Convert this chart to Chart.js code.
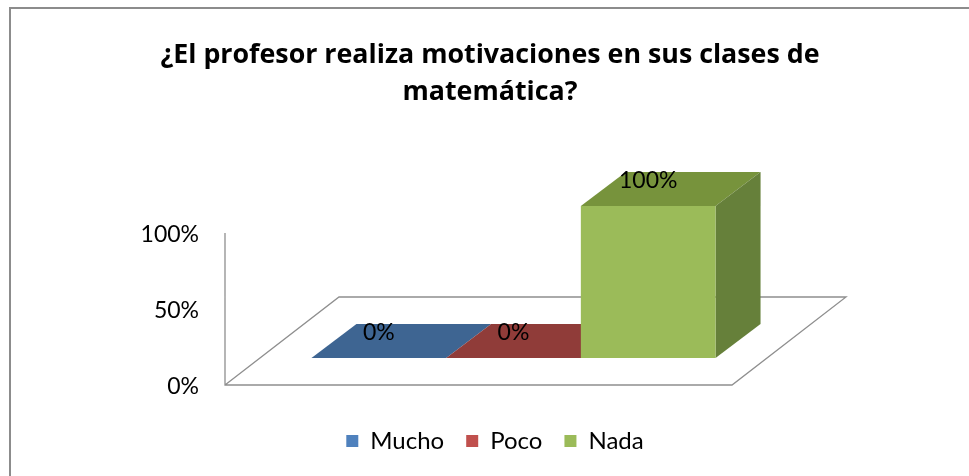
<!DOCTYPE html>
<html>
<head>
<meta charset="utf-8">
<script src="https://cdn.jsdelivr.net/npm/chart.js"></script>
<style>
html, body { margin: 0; padding: 0; background: #fff; }
#wrap { position: relative; width: 969px; height: 476px; overflow: hidden; }
#marco { position: absolute; left: 9px; top: 7px; width: 1000px; height: 520px; border: 2px solid #8c8c8c; }
#grafico { position: absolute; left: 0; top: 0; }
</style>
</head>
<body>
<div id="wrap">
    <div id="marco"></div>
    <canvas id="grafico" width="969" height="476"></canvas>
</div>
<script>
const titulo = ['¿El profesor realiza motivaciones en sus clases de', 'matemática?'];
const categorias = ['Mucho', 'Poco', 'Nada'];
const valores = [0, 0, 1];
const ticksValores = [0, 0.5, 1];
const ticksEtiquetas = ['0%', '50%', '100%'];

const coloresFrente = ['#4F81BD', '#C0504D', '#9BBB59'];
const coloresArriba = ['#3E6592', '#903C39', '#77933C'];
const coloresLado = ['#345579', '#7A3230', '#66803A'];

const fuente = 'Lato, "Open Sans", sans-serif';
const fuenteTitulo = '"Open Sans", Lato, sans-serif';

// profundidad de las barras y desplazamientos del piso (respecto al plano de las barras)
const prof = { dx: 45, dy: -34 };
const frente = { dx: -35, dy: 27 };
const fondo = { dx: 79, dy: -61 };

function poligono(ctx, pts){
    ctx.beginPath();
    ctx.moveTo(pts[0][0], pts[0][1]);
    for(let k = 1; k < pts.length; k++){
        ctx.lineTo(pts[k][0], pts[k][1]);
    }
    ctx.closePath();
    ctx.fill();
}

const efecto3d = {
    id: 'efecto3d',
    afterLayout(chart){
        // la leyenda del original esta un poco corrida a la derecha
        chart.legend.left += 5;
        chart.legend.right += 5;
    },
    beforeDatasetsDraw(chart){
        const { ctx, chartArea, scales: { y } } = chart;
        const y0 = y.getPixelForValue(0);
        const y1 = y.getPixelForValue(1);

        ctx.save();
        ctx.strokeStyle = '#8f8f8f';
        ctx.lineWidth = 1.3;
        ctx.beginPath();
        ctx.moveTo(chartArea.left + frente.dx, y1 + frente.dy);
        ctx.lineTo(chartArea.left + frente.dx, y0 + frente.dy);
        ctx.lineTo(chartArea.right + frente.dx, y0 + frente.dy);
        ctx.lineTo(chartArea.right + fondo.dx, y0 + fondo.dy);
        ctx.lineTo(chartArea.left + fondo.dx, y0 + fondo.dy);
        ctx.lineTo(chartArea.left + frente.dx, y0 + frente.dy);
        ctx.stroke();

        chart.data.datasets.forEach((ds, i) => {
            const bar = chart.getDatasetMeta(i).data[0];
            const izq = bar.x - bar.width / 2;
            const der = bar.x + bar.width / 2;
            const arriba = Math.min(bar.y, bar.base);

            ctx.fillStyle = coloresArriba[i];
            poligono(ctx, [
                [izq, arriba], [der, arriba],
                [der + prof.dx, arriba + prof.dy], [izq + prof.dx, arriba + prof.dy]
            ]);

            if(bar.base - bar.y > 0.5){
                ctx.fillStyle = coloresLado[i];
                poligono(ctx, [
                    [der, arriba], [der + prof.dx, arriba + prof.dy],
                    [der + prof.dx, bar.base + prof.dy], [der, bar.base]
                ]);
            }
        });
        ctx.restore();
    },
    afterDatasetsDraw(chart){
        const { ctx } = chart;
        ctx.save();
        ctx.fillStyle = '#000';
        ctx.font = '23px ' + fuente;
        ctx.textAlign = 'center';
        ctx.textBaseline = 'middle';
        chart.data.datasets.forEach((ds, i) => {
            const bar = chart.getDatasetMeta(i).data[0];
            const texto = Math.round(ds.data[0] * 100) + '%';
            ctx.fillText(texto, bar.x, Math.min(bar.y, bar.base) - 25);
        });
        ctx.restore();
    }
};

function sinRelleno(scale, ancho){
    scale.width = ancho;
    scale.paddingTop = 0;
    scale.paddingBottom = 0;
}

const ctx = document.getElementById('grafico');

new Chart(ctx, {
    type: 'bar',
    data: {
        labels: [''],
        datasets: categorias.map((nombre, i) => ({
            label: nombre,
            data: [valores[i]],
            backgroundColor: coloresFrente[i],
            borderWidth: 0
        }))
    },
    options: {
        responsive: false,
        animation: false,
        devicePixelRatio: 1,
        events: [],
        categoryPercentage: 0.797,
        barPercentage: 1,
        layout: {
            padding: { left: 130, right: 119, top: 0, bottom: 13 }
        },
        scales: {
            x: {
                display: false
            },
            y: {
                min: -0.3224,
                max: 1.566,
                grid: { display: false, drawTicks: false, tickLength: 0 },
                border: { display: false },
                afterFit: (scale) => sinRelleno(scale, 130),
                afterBuildTicks(scale){
                    scale.ticks = ticksValores.map(v => ({ value: v }));
                },
                ticks: {
                    padding: 61,
                    labelOffset: 29,
                    color: '#000',
                    font: { family: fuente, size: 23 },
                    callback: (value) => ticksEtiquetas[ticksValores.indexOf(value)]
                }
            },
            derecha: {
                type: 'linear',
                position: 'right',
                grid: { display: false },
                border: { display: false },
                ticks: { display: false },
                afterFit: (scale) => sinRelleno(scale, 83)
            }
        },
        plugins: {
            title: {
                display: true,
                text: titulo,
                color: '#000',
                font: { family: fuenteTitulo, size: 26.8, weight: 'bold', lineHeight: 1.38 },
                padding: { top: 36.5, bottom: 9.5 }
            },
            legend: {
                position: 'bottom',
                labels: {
                    boxWidth: 12,
                    boxHeight: 12,
                    padding: 22,
                    color: '#000',
                    font: { family: fuente, size: 24 }
                }
            },
            tooltip: { enabled: false }
        }
    },
    plugins: [efecto3d]
});
</script>
</body>
</html>
